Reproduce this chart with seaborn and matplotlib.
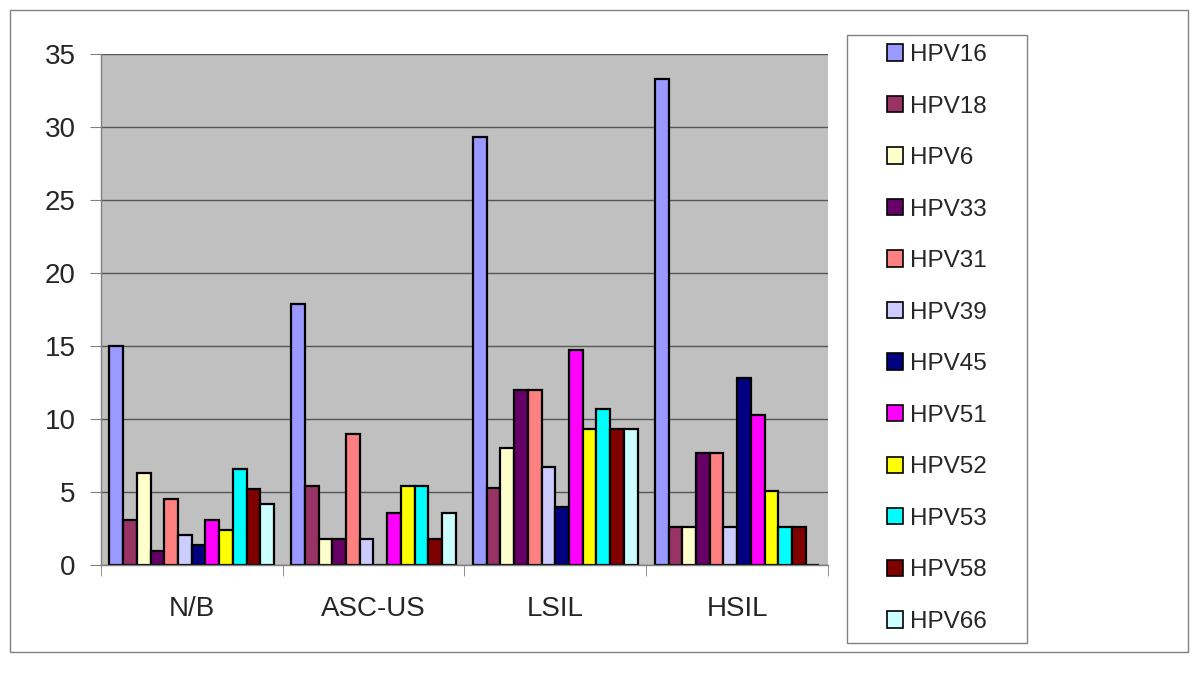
import pandas as pd
import seaborn as sns
import matplotlib.pyplot as plt
from matplotlib.patches import Rectangle, Patch

categories = ["N/B", "ASC-US", "LSIL", "HSIL"]
types = ["HPV16", "HPV18", "HPV6", "HPV33", "HPV31", "HPV39",
         "HPV45", "HPV51", "HPV52", "HPV53", "HPV58", "HPV66"]

nb = [15.0, 3.1, 6.3, 1.0, 4.5, 2.1, 1.4, 3.1, 2.4, 6.6, 5.2, 4.2]
ascus = [17.9, 5.4, 1.8, 1.8, 9.0, 1.8, 0.0, 3.6, 5.4, 5.4, 1.8, 3.6]
lsil = [29.3, 5.3, 8.0, 12.0, 12.0, 6.7, 4.0, 14.7, 9.3, 10.7, 9.3, 9.3]
hsil = [33.3, 2.6, 2.6, 7.7, 7.7, 2.6, 12.8, 10.3, 5.1, 2.6, 2.6, 0.0]

colors = ["#9999FF", "#993366", "#FFFFCC", "#660066", "#FF8080", "#CCCCFF",
          "#000080", "#FF00FF", "#FFFF00", "#00FFFF", "#800000", "#CCFFFF"]

rows = []
for cat, vals in zip(categories, [nb, ascus, lsil, hsil]):
    for t, v in zip(types, vals):
        rows.append({"group": cat, "type": t, "value": v})
df = pd.DataFrame(rows)

sns.set_style("white")
plt.rcParams["font.family"] = ["Liberation Sans", "DejaVu Sans"]

fig = plt.figure(figsize=(12, 6.81), dpi=100)
ax = fig.add_axes([0.084, 0.170, 0.606, 0.751])
ax.set_facecolor("#C0C0C0")

sns.barplot(data=df, x="group", y="value", hue="type", order=categories,
            hue_order=types, palette=dict(zip(types, colors)), saturation=1,
            width=0.905, gap=0, edgecolor="black", linewidth=1.6, ax=ax,
            legend=False)

ax.set_ylim(0, 35)
ax.set_xlim(-0.5, 3.5)
ax.set_yticks(range(0, 36, 5))
ax.yaxis.grid(True, color="#555555", linewidth=1.0)
ax.set_axisbelow(True)
ax.set_xlabel("")
ax.set_ylabel("")
for s in ["top", "right"]:
    ax.spines[s].set_visible(False)
for s in ["left", "bottom"]:
    ax.spines[s].set_color("#808080")
    ax.spines[s].set_linewidth(1.0)

ax.tick_params(axis="y", labelsize=20, length=8, color="#808080", direction="out",
               left=True, pad=10)
ax.set_xticks([-0.5, 0.5, 1.5, 2.5, 3.5], minor=True)
ax.tick_params(axis="x", which="minor", length=8, color="#808080", direction="out", bottom=True)
ax.tick_params(axis="x", which="major", length=0, labelsize=20, pad=22)

# legend frame drawn separately so its padding matches the reference
fig.patches.append(Rectangle((847 / 1200, 1 - 643 / 681), 180 / 1200, 608 / 681,
                             transform=fig.transFigure, facecolor="white",
                             edgecolor="#808080", linewidth=1.0, zorder=0))

handles = [Patch(facecolor=c, edgecolor="black", linewidth=1.2) for c in colors]
leg = fig.legend(handles, types, loc="upper left", bbox_to_anchor=(887 / 1200, 1 - 44 / 681),
                 frameon=False, fontsize=17.5, handlelength=0.66, handleheight=0.66,
                 handletextpad=0.3, labelspacing=1.215, borderpad=0,
                 borderaxespad=0)

fig.patches.append(Rectangle((10 / 1200, 1 - 652 / 681), 1178 / 1200, 642 / 681,
                             transform=fig.transFigure, fill=False,
                             edgecolor="#808080", linewidth=1.0))

fig.savefig("out.png", dpi=100)
